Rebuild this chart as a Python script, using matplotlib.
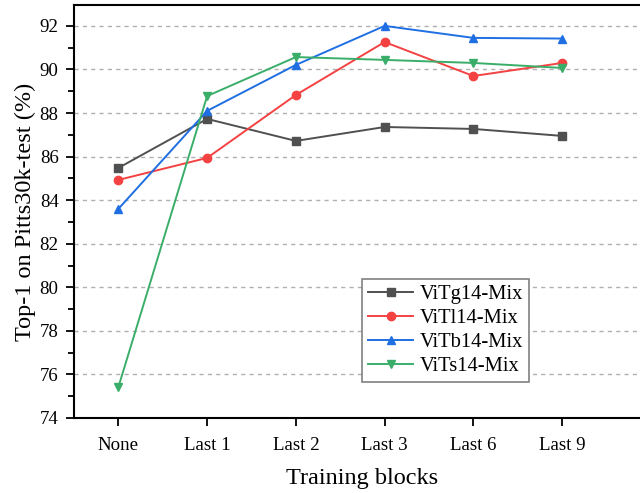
import matplotlib.pyplot as plt
import numpy as np

plt.rcParams['font.family'] = ['Liberation Serif', 'DejaVu Serif']
plt.rcParams['mathtext.fontset'] = 'stix'

categories = ['None', 'Last 1', 'Last 2', 'Last 3', 'Last 6', 'Last 9']
vitg = [85.48, 87.73, 86.72, 87.36, 87.27, 86.95]
vitl = [84.93, 85.94, 88.83, 91.26, 89.70, 90.30]
vitb = [83.60, 88.10, 90.21, 92.00, 91.45, 91.42]
vits = [75.42, 88.78, 90.57, 90.44, 90.30, 90.07]

names = ['ViTg14-Mix', 'ViTl14-Mix', 'ViTb14-Mix', 'ViTs14-Mix']
cols = ['#505050', '#f44242', '#1f6fe3', '#3aae69']
marks = ['s', 'o', '^', 'v']

fig = plt.figure(figsize=(6.4, 4.93), dpi=100)
ax = fig.add_axes([74/640, 75/493, 576/640, 413/493])

x = np.arange(len(categories))
for ys, nm, c, m in zip([vitg, vitl, vitb, vits], names, cols, marks):
    ax.plot(x, ys, color=c, marker=m, markersize=6, linewidth=1.4, label=nm)

ax.set_xlim(-0.5, 5.99)
ax.set_ylim(74, 92.96)
ax.set_xticks(x)
ax.set_xticklabels(categories)
ax.set_yticks(np.arange(74, 93, 2))
ax.set_yticks(np.arange(75, 93, 2), minor=True)
ax.yaxis.grid(True, linestyle=(0, (3, 3)), color='#b0b0b0', linewidth=1)
ax.set_axisbelow(True)
ax.tick_params(axis='both', direction='out', labelsize=13.6, width=1.3, length=6, top=False, right=False)
ax.tick_params(axis='x', pad=8)
ax.tick_params(axis='y', pad=5)
ax.tick_params(axis='y', which='minor', direction='out', width=1.3, length=4)
ax.tick_params(axis='x', which='minor', bottom=False)
for s in ['left', 'bottom', 'top']:
    ax.spines[s].set_linewidth(1.5)
ax.spines['right'].set_visible(False)

ax.set_xlabel('Training blocks', fontsize=17.5, labelpad=10)
ax.set_ylabel('Top-1 on Pitts30k-test (%)', fontsize=17.5, labelpad=3)

leg = ax.legend(loc='lower left', bbox_to_anchor=(0.5, 0.087), borderaxespad=0,
                fontsize=14.8, fancybox=False, edgecolor='#808080', framealpha=1,
                handlelength=2.2, handletextpad=0.3, borderpad=0.3, labelspacing=0.22)
leg.get_frame().set_linewidth(1.2)

fig.savefig('out.png', dpi=100)
